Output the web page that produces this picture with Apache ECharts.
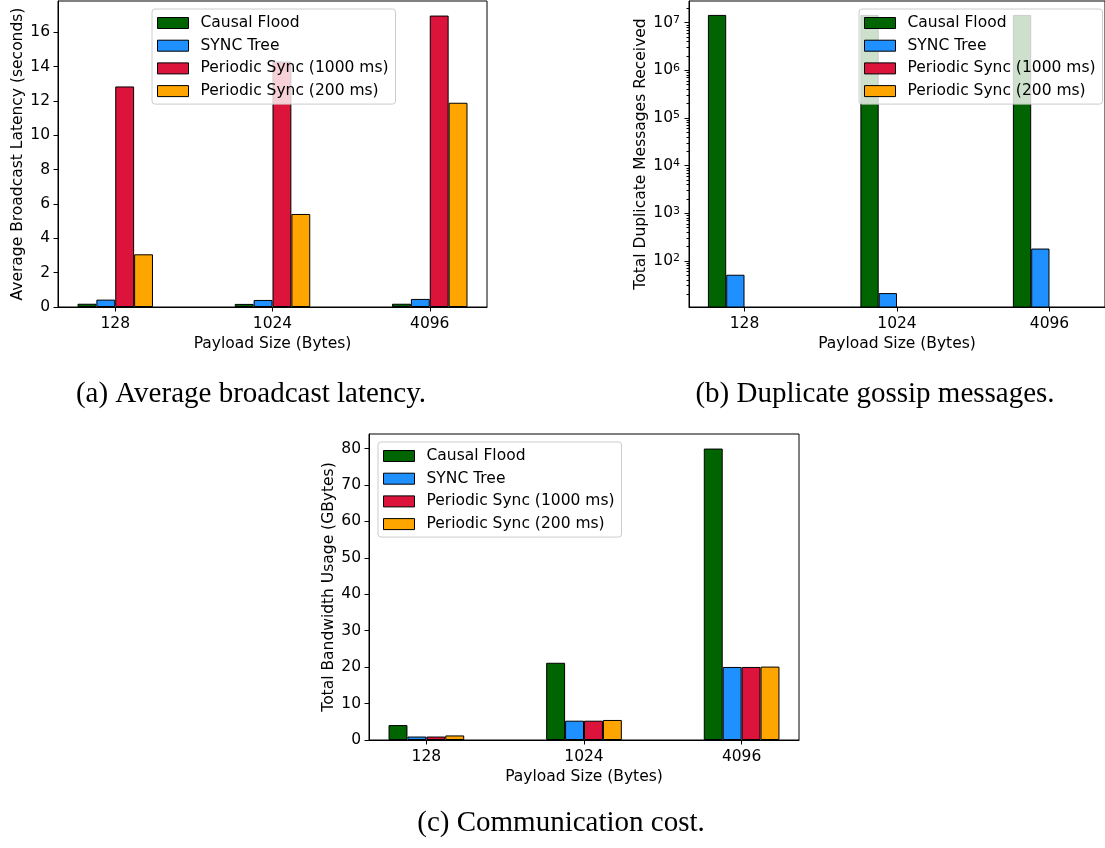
<!DOCTYPE html>
<html>
<head>
<meta charset="utf-8">
<script src="https://cdn.jsdelivr.net/npm/echarts@6/dist/echarts.min.js"></script>
<style>
  html, body { margin: 0; padding: 0; background: #ffffff; }
  #chart { width: 1105px; height: 848px; }
</style>
</head>
<body>
<div id="chart"></div>
<script>
// Payload sizes on the x axis and the four dissemination strategies
const payloadSizes = ['128', '1024', '4096'];
const seriesNames = ['Causal Flood', 'SYNC Tree', 'Periodic Sync (1000 ms)', 'Periodic Sync (200 ms)'];
const seriesColors = ['#006400', '#1E90FF', '#DC143C', '#FFA500'];

// (a) average broadcast latency, seconds
const latencyCausalFlood = [0.19, 0.18, 0.19];
const latencySyncTree = [0.43, 0.41, 0.47];
const latencyPeriodic1000 = [12.85, 14.3, 16.98];
const latencyPeriodic200 = [3.07, 5.42, 11.9];

// (b) total duplicate messages received (log scale)
const duplicatesCausalFlood = [14600000, 14600000, 14600000];
const duplicatesSyncTree = [51, 21, 181];
const duplicatesPeriodic1000 = [0, 0, 0];
const duplicatesPeriodic200 = [0, 0, 0];

// (c) total bandwidth usage, GBytes
const bandwidthCausalFlood = [4.1, 21.2, 80.0];
const bandwidthSyncTree = [0.95, 5.3, 20.05];
const bandwidthPeriodic1000 = [0.95, 5.3, 20.05];
const bandwidthPeriodic200 = [1.25, 5.5, 20.15];

// Tick labels
const latencyTicks = [0, 2, 4, 6, 8, 10, 12, 14, 16];
const duplicateTicks = [1e2, 1e3, 1e4, 1e5, 1e6, 1e7];
const bandwidthTicks = [0, 10, 20, 30, 40, 50, 60, 70, 80];

const captions = ['(a) Average broadcast latency.', '(b) Duplicate gossip messages.', '(c) Communication cost.'];

// ---- layout helpers ----
const FONT = 'DejaVu Sans';
const FONT_SIZE = 15.5;
const BAR_W = 0.12;                       // bar width in category units
const X_PAD = 0.05 * (2 + 4 * BAR_W);      // 5% margin on each side
const X_MIN = -2 * BAR_W - X_PAD;
const X_MAX = 2 + 2 * BAR_W + X_PAD;
const catIdx = payloadSizes.map((_, i) => i);

function linearMax(groups) {
  return Math.max(...groups.flat()) * 1.05;
}
function logExtent(groups) {
  const pos = groups.flat().filter(v => v > 0).map(v => Math.log10(v));
  const lo = Math.min(...pos), hi = Math.max(...pos);
  const pad = 0.05 * (hi - lo);
  return [Math.pow(10, lo - pad), Math.pow(10, hi + pad)];
}

const latencyGroups = [latencyCausalFlood, latencySyncTree, latencyPeriodic1000, latencyPeriodic200];
const duplicateGroups = [duplicatesCausalFlood, duplicatesSyncTree, duplicatesPeriodic1000, duplicatesPeriodic200];
const bandwidthGroups = [bandwidthCausalFlood, bandwidthSyncTree, bandwidthPeriodic1000, bandwidthPeriodic200];

const latencyMax = linearMax(latencyGroups);
const bandwidthMax = linearMax(bandwidthGroups);
const [dupMin, dupMax] = logExtent(duplicateGroups);

// minor ticks of the log axis: 2..9 x 10^k
const duplicateMinorTicks = [];
for (let k = 0; k <= 8; k++) {
  for (let m = 2; m <= 9; m++) {
    const v = m * Math.pow(10, k);
    if (v > dupMin && v < dupMax) duplicateMinorTicks.push(v);
  }
}

const axisText = { fontFamily: FONT, fontSize: FONT_SIZE, color: '#000' };
const blackLine = { color: '#000', width: 1 };

function xAxisFor(gridIndex) {
  return {
    type: 'value', gridIndex, min: X_MIN, max: X_MAX,
    name: 'Payload Size (Bytes)', nameLocation: 'middle', nameGap: 29,
    nameTextStyle: axisText,
    axisLine: { show: true, onZero: false, lineStyle: blackLine },
    axisTick: { show: true, inside: false, length: 4.5, lineStyle: blackLine, customValues: catIdx },
    axisLabel: Object.assign({ customValues: catIdx, margin: 9,
      formatter: v => payloadSizes[Math.round(v)] }, axisText),
    splitLine: { show: false }
  };
}

function linearYAxis(gridIndex, max, ticks, name, gap) {
  return {
    type: 'value', gridIndex, min: 0, max,
    name, nameLocation: 'middle', nameGap: gap, nameTextStyle: axisText,
    axisLine: { show: true, onZero: false, lineStyle: blackLine },
    axisTick: { show: true, inside: false, length: 4.5, lineStyle: blackLine, customValues: ticks },
    axisLabel: Object.assign({ customValues: ticks, margin: 8 }, axisText),
    splitLine: { show: false }
  };
}

function legendAt(left, top) {
  return {
    data: seriesNames, orient: 'vertical', left, top,
    icon: 'rect', itemWidth: 31, itemHeight: 11, itemGap: 6.7,
    padding: [6, 7, 5, 5],
    backgroundColor: 'rgba(255,255,255,0.8)', borderColor: '#cccccc', borderWidth: 1, borderRadius: 3,
    selectedMode: false,
    itemStyle: { borderColor: '#000', borderWidth: 1 },
    textStyle: { fontFamily: FONT, fontSize: FONT_SIZE, color: '#000', lineHeight: 16, padding: [0, 0, 0, 7] }
  };
}

function barSeries(groups, gridIndex, yAxisIndex, positiveOnly) {
  return groups.map((vals, s) => ({
    type: 'bar', name: seriesNames[s], xAxisIndex: gridIndex, yAxisIndex,
    barWidth: (BAR_W * 100) + '%', barGap: '0%',
    itemStyle: { color: seriesColors[s], borderColor: '#000', borderWidth: 1 },
    emphasis: { disabled: true },
    data: vals.map((v, i) => [i, positiveOnly && !(v > 0) ? '-' : v])
  }));
}

const chart = echarts.init(document.getElementById('chart'), null, { renderer: 'canvas' });

const captionStyle = { align: 'center', verticalAlign: 'middle', fontFamily: 'Liberation Serif', fontSize: 29, fill: '#000' };

const option = {
  animation: false,
  backgroundColor: '#ffffff',
  color: seriesColors,
  grid: [
    { left: 58, top: 1, width: 429, height: 306, show: true, borderColor: '#000', borderWidth: 1, backgroundColor: 'transparent' },
    { left: 689, top: 1, width: 421, height: 306, show: true, borderColor: '#000', borderWidth: 1, backgroundColor: 'transparent' },
    { left: 369, top: 434, width: 430, height: 306, show: true, borderColor: '#000', borderWidth: 1, backgroundColor: 'transparent' }
  ],
  xAxis: [xAxisFor(0), xAxisFor(1), xAxisFor(2)],
  yAxis: [
    linearYAxis(0, latencyMax, latencyTicks, 'Average Broadcast Latency (seconds)', 32),
    {
      type: 'log', logBase: 10, gridIndex: 1, min: dupMin, max: dupMax,
      name: 'Total Duplicate Messages Received', nameLocation: 'middle', nameGap: 40, nameTextStyle: axisText,
      axisLine: { show: true, onZero: false, lineStyle: blackLine },
      axisTick: { show: true, inside: false, length: 4.5, lineStyle: blackLine, customValues: duplicateTicks },
      axisLabel: {
        customValues: duplicateTicks, margin: 9,
        formatter: v => '{b|10}{s|' + Math.round(Math.log10(v)) + '}',
        rich: {
          b: { fontFamily: FONT, fontSize: FONT_SIZE, color: '#000', lineHeight: 16, verticalAlign: 'bottom' },
          s: { fontFamily: FONT, fontSize: 11, color: '#000', lineHeight: 11, verticalAlign: 'top' }
        }
      },
      splitLine: { show: false }
    },
    {
      type: 'log', logBase: 10, gridIndex: 1, min: dupMin, max: dupMax, position: 'left',
      axisLine: { show: false, onZero: false },
      axisTick: { show: true, inside: false, length: 2.5, lineStyle: blackLine, customValues: duplicateMinorTicks },
      axisLabel: { show: false },
      splitLine: { show: false }
    },
    linearYAxis(2, bandwidthMax, bandwidthTicks, 'Total Bandwidth Usage (GBytes)', 32)
  ],
  legend: [legendAt(152, 9), legendAt(859, 9), legendAt(378, 442)],
  series: [
    ...barSeries(latencyGroups, 0, 0, false),
    ...barSeries(duplicateGroups, 1, 1, true),
    ...barSeries(bandwidthGroups, 2, 3, false)
  ],
  graphic: [
    { type: 'text', x: 251, y: 394, style: Object.assign({ text: captions[0] }, captionStyle) },
    { type: 'text', x: 875, y: 394, style: Object.assign({ text: captions[1] }, captionStyle) },
    { type: 'text', x: 561, y: 823, style: Object.assign({ text: captions[2] }, captionStyle) }
  ]
};

chart.setOption(option);
</script>
</body>
</html>
